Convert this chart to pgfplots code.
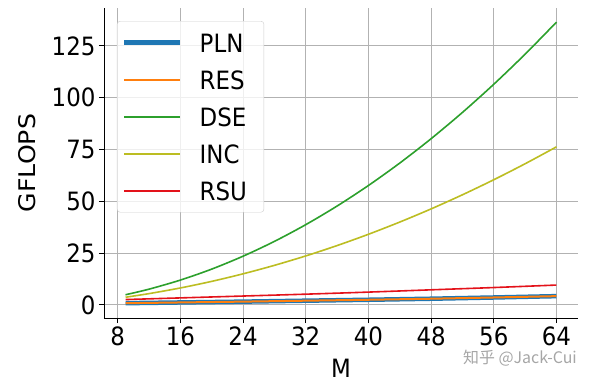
\documentclass[border=0pt]{standalone}
\usepackage{fontspec}
\setmainfont{DejaVu Sans}
\newfontfamily\cjk{Noto Sans CJK SC}
\usepackage{graphicx}
\usepackage{pgfplots}
\pgfplotsset{compat=1.18}
\definecolor{cPLN}{HTML}{1F77B4}
\definecolor{cRES}{HTML}{FF7F0E}
\definecolor{cDSE}{HTML}{2CA02C}
\definecolor{cINC}{HTML}{BCBD22}
\definecolor{cRSU}{HTML}{E3121A}
\newcommand\vs[1]{\scalebox{1}[1.1]{#1}}
\begin{document}
\begin{tikzpicture}
\begin{axis}[
  width=474bp, height=310bp, scale only axis,
  xmin=6.25, xmax=66.75, ymin=-6.3, ymax=143.3,
  axis x line*=bottom, axis y line*=left,
  xtick={8,16,...,64}, ytick={0,25,...,125},
  grid=major, grid style={color=black!30, line width=0.9bp},
  tick align=outside, major tick length=5bp,
  tick style={black, line width=0.9bp},
  axis line style={black, line width=0.9bp},
  /pgf/number format/assume math mode=true,
  ticklabel style={font=\fontsize{23}{27}\selectfont},
  xticklabel={\vs{\pgfmathprintnumber{\tick}}},
  yticklabel={\vs{\pgfmathprintnumber{\tick}}},
  xlabel={\vs{M}}, ylabel={\scalebox{1.1}[1]{GFLOPS}},
  label style={font=\fontsize{23}{27}\selectfont},
  xlabel style={at={(axis description cs:0.5,-0.1613)}, anchor=center},
  ylabel style={at={(axis description cs:-0.1624,0.5)}, anchor=center},
  clip=false,
  legend cell align=left,
  legend image code/.code={\draw[#1] (0bp,0bp) -- (56bp,0bp);},
  legend style={at={(axis description cs:0.0274,0.958)}, anchor=north west,
    draw=black!20, rounded corners=3bp, fill=white, fill opacity=0.8,
    draw opacity=1, text opacity=1,
    font=\fontsize{23}{27}\selectfont,
    inner xsep=5bp, inner ysep=10bp,
    nodes={inner sep=2bp, text height=19bp, text depth=0bp},
    row sep=14bp,
    /tikz/every odd column/.append style={column sep=5bp},
    /tikz/every even column/.append style={nodes={inner xsep=12bp}}},
]
\addplot[cPLN, line width=4.5bp] coordinates {(9,0.85) (16,1.2) (24,1.6) (32,2.05) (40,2.5) (48,3.0) (56,3.6) (64,4.25)};
\addlegendentry{\vs{PLN}}
\addplot[cRES, line width=2bp] coordinates {(9,0.85) (16,1.2) (24,1.6) (32,2.05) (40,2.5) (48,3.0) (56,3.6) (64,4.25)};
\addlegendentry{\vs{RES}}
\addplot[cDSE, line width=1.6bp, smooth] coordinates {(9,4.93) (12,7.62) (16,12.00) (20,17.30) (24,23.53) (28,30.67) (32,38.74) (36,47.73) (40,57.64) (44,68.47) (48,80.23) (52,92.90) (56,106.50) (60,121.02) (64,136.46)};
\addlegendentry{\vs{DSE}}
\addplot[cINC, line width=1.6bp, smooth] coordinates {(9,3.72) (12,5.47) (16,8.20) (20,11.38) (24,15.02) (28,19.11) (32,23.65) (36,28.65) (40,34.10) (44,40.00) (48,46.35) (52,53.16) (56,60.42) (60,68.14) (64,76.30)};
\addlegendentry{\vs{INC}}
\addplot[cRSU, line width=1.6bp, smooth] coordinates {(9,2.6) (16,3.4) (24,4.3) (32,5.2) (40,6.2) (48,7.3) (56,8.4) (64,9.6)};
\addlegendentry{\vs{RSU}}
\node[text=black!35, font=\cjk\fontsize{16}{18}\selectfont, anchor=center] at (axis description cs:0.8776,-0.129) {知乎 @Jack-Cui};
\end{axis}
\pgfresetboundingbox
\path[use as bounding box] (-104bp,-65bp) rectangle (496bp,318bp);
\end{tikzpicture}
\end{document}
